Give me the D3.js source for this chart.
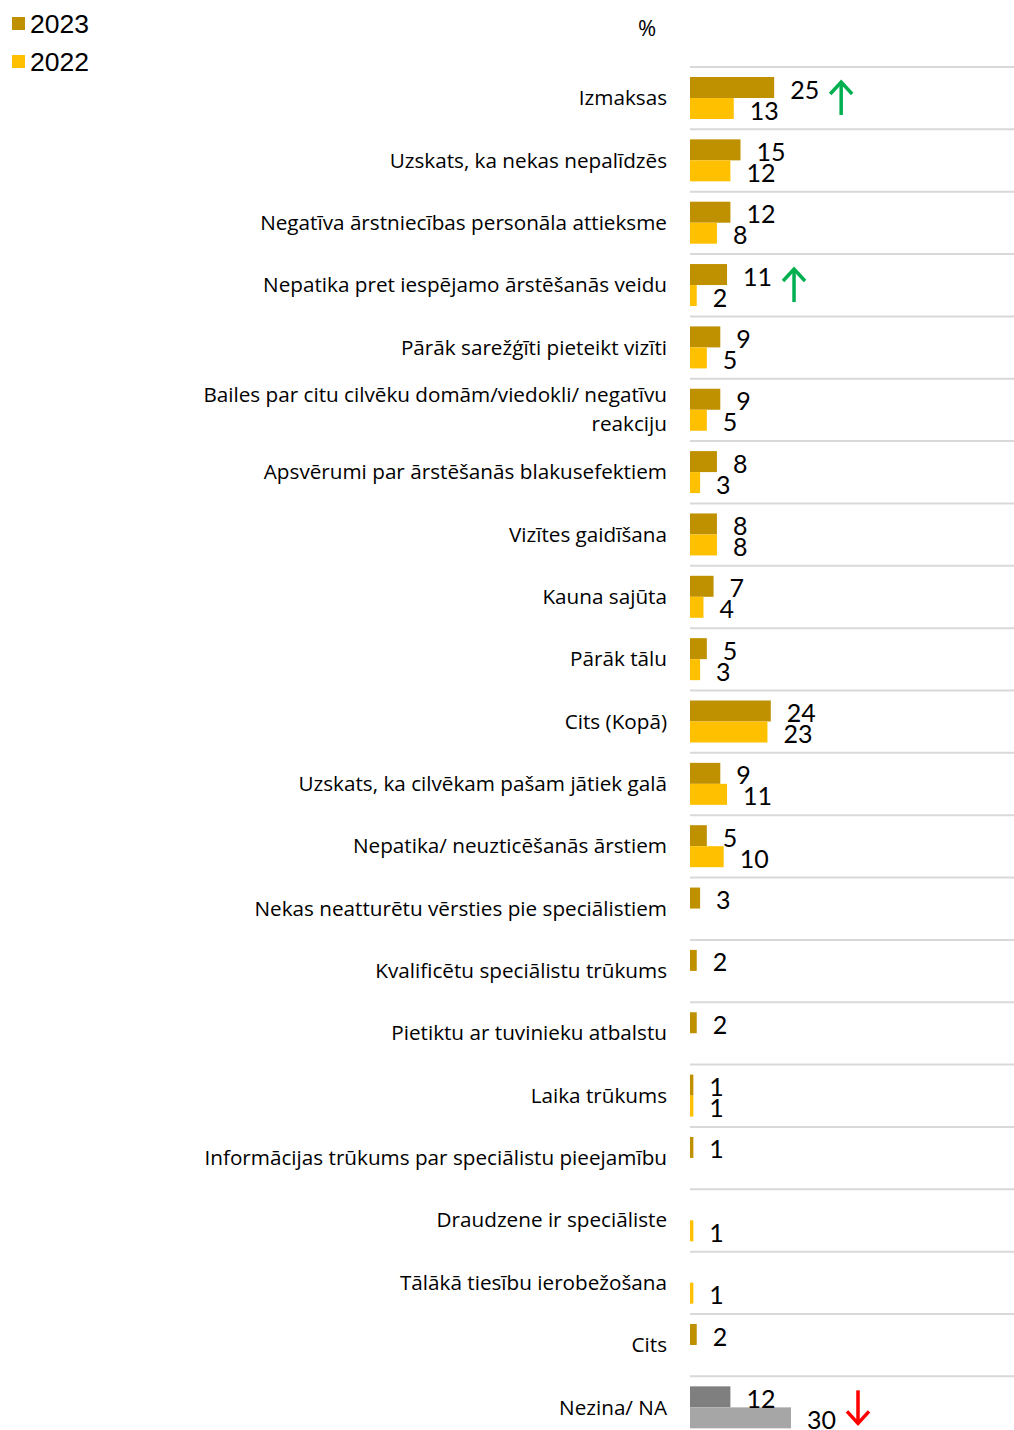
<!DOCTYPE html>
<html>
<head>
<meta charset="utf-8">
<script src="https://cdn.jsdelivr.net/npm/d3@7"></script>
<style>
  body { margin: 0; background: #fff; }
  svg { display: block; }
</style>
</head>
<body>
<div id="chart"></div>
<script>
// categories, top to bottom
const categories = [
  "Izmaksas",
  "Uzskats, ka nekas nepalīdzēs",
  "Negatīva ārstniecības personāla attieksme",
  "Nepatika pret iespējamo ārstēšanās veidu",
  "Pārāk sarežģīti pieteikt vizīti",
  "Bailes par citu cilvēku domām/viedokli/ negatīvu reakciju",
  "Apsvērumi par ārstēšanās blakusefektiem",
  "Vizītes gaidīšana",
  "Kauna sajūta",
  "Pārāk tālu",
  "Cits (Kopā)",
  "Uzskats, ka cilvēkam pašam jātiek galā",
  "Nepatika/ neuzticēšanās ārstiem",
  "Nekas neatturētu vērsties pie speciālistiem",
  "Kvalificētu speciālistu trūkums",
  "Pietiktu ar tuvinieku atbalstu",
  "Laika trūkums",
  "Informācijas trūkums par speciālistu pieejamību",
  "Draudzene ir speciāliste",
  "Tālākā tiesību ierobežošana",
  "Cits",
  "Nezina/ NA"
];
const years = ["2023", "2022"];
const values2023 = [25, 15, 12, 11, 9, 9, 8, 8, 7, 5, 24, 9, 5, 3, 2, 2, 1, 1, null, null, 2, 12];
const values2022 = [13, 12, 8, 2, 5, 5, 3, 8, 4, 3, 23, 11, 10, null, null, null, 1, null, 1, 1, null, 30];
// change markers: category -> direction
const arrowCats = ["Izmaksas", "Nepatika pret iespējamo ārstēšanās veidu", "Nezina/ NA"];
const arrowDirs = ["up", "up", "down"];

const W = 1014, H = 1430;
const colors = { "2023": "#bf9000", "2022": "#ffc000" };
const naColors = { "2023": "#7f7f7f", "2022": "#a6a6a6" };

const svg = d3.select("#chart").append("svg")
  .attr("width", W).attr("height", H);

const rows = categories.map((c, i) => ({ cat: c, i: i, v: { "2023": values2023[i], "2022": values2022[i] } }));

const y = d3.scaleBand()
  .domain(categories)
  .range([67, 67 + categories.length * 62.35]);

const yy = d3.scaleBand()
  .domain(years)
  .range([10, 52]);

const x = d3.scaleLinear()
  .domain([0, 30])
  .range([690, 791]);

const labelFont = "'Open Sans', sans-serif";
const numFont = "Lato, 'Open Sans', sans-serif";

// "%" header
svg.append("text")
  .attr("x", 647).attr("y", 27)
  .attr("text-anchor", "middle").attr("dominant-baseline", "central")
  .style("font-family", labelFont).style("font-size", "22px")
  .text("%");

// legend
const legend = svg.append("g");
years.forEach((yr, k) => {
  legend.append("rect")
    .attr("x", 12).attr("y", 17 + k * 38).attr("width", 13).attr("height", 13)
    .attr("fill", colors[yr]);
  legend.append("text")
    .attr("x", 30).attr("y", 24 + k * 38)
    .attr("dominant-baseline", "central")
    .style("font-family", "'Liberation Sans', Arial, sans-serif").style("font-size", "26.5px")
    .text(yr);
});

// separator lines
svg.append("g").selectAll("line")
  .data(categories)
  .join("line")
  .attr("x1", 690).attr("x2", W)
  .attr("y1", d => y(d)).attr("y2", d => y(d))
  .attr("stroke", "#d9d9d9").attr("stroke-width", 2);

const row = svg.append("g").selectAll("g")
  .data(rows)
  .join("g")
  .attr("transform", d => `translate(0,${y(d.cat)})`);

// category labels (wrap the long one)
row.each(function(d) {
  const g = d3.select(this);
  const t = g.append("text")
    .attr("x", 667)
    .attr("text-anchor", "end")
    .style("font-family", labelFont).style("font-size", "20.7px")
    .attr("fill", "#000");
  let lines = [d.cat];
  if (d.cat.startsWith("Bailes")) lines = ["Bailes par citu cilvēku domām/viedokli/ negatīvu", "reakciju"];
  const lh = 29;
  const mid = y.bandwidth() / 2 - 1;
  lines.forEach((ln, k) => {
    t.append("tspan")
      .attr("x", 667)
      .attr("y", mid + (k - (lines.length - 1) / 2) * lh)
      .attr("dominant-baseline", "central")
      .text(ln);
  });
});

// bars
row.each(function(d) {
  const g = d3.select(this);
  const pal = d.cat === "Nezina/ NA" ? naColors : colors;
  const data = years.filter(yr => d.v[yr] != null).map(yr => ({ yr: yr, v: d.v[yr] }));
  g.selectAll("rect.bar")
    .data(data)
    .join("rect")
    .attr("class", "bar")
    .attr("x", x(0))
    .attr("y", e => yy(e.yr))
    .attr("width", e => x(e.v) - x(0))
    .attr("height", yy.bandwidth())
    .attr("fill", e => pal[e.yr]);
  g.selectAll("text.val")
    .data(data)
    .join("text")
    .attr("class", "val")
    .attr("x", e => x(e.v) + 16)
    .attr("y", e => yy(e.yr) + yy.bandwidth() / 2 + 1)
    .attr("dominant-baseline", "central")
    .style("font-family", numFont).style("font-size", "25px")
    .text(e => e.v);
});

// arrows
arrowCats.forEach((c, k) => {
  const i = categories.indexOf(c);
  const mx = d3.max([values2023[i], values2022[i]]);
  const cx = x(mx) + 67;
  const top = y(c) + 14, bot = y(c) + 48;
  const col = arrowDirs[k] === "up" ? "#00b050" : "#ff0000";
  const tip = arrowDirs[k] === "up" ? top : bot;
  const tail = arrowDirs[k] === "up" ? bot : top;
  const dir = arrowDirs[k] === "up" ? 1 : -1;
  const a = svg.append("g").attr("stroke", col).attr("stroke-width", 3.5)
    .attr("fill", "none").attr("stroke-linecap", "butt");
  a.append("line").attr("x1", cx).attr("x2", cx).attr("y1", tail).attr("y2", tip + dir * 1);
  a.append("path")
    .attr("stroke-linejoin", "miter")
    .attr("d", `M${cx - 11},${tip + dir * 13}L${cx},${tip + dir * 1}L${cx + 11},${tip + dir * 13}`);
});
</script>
</body>
</html>
